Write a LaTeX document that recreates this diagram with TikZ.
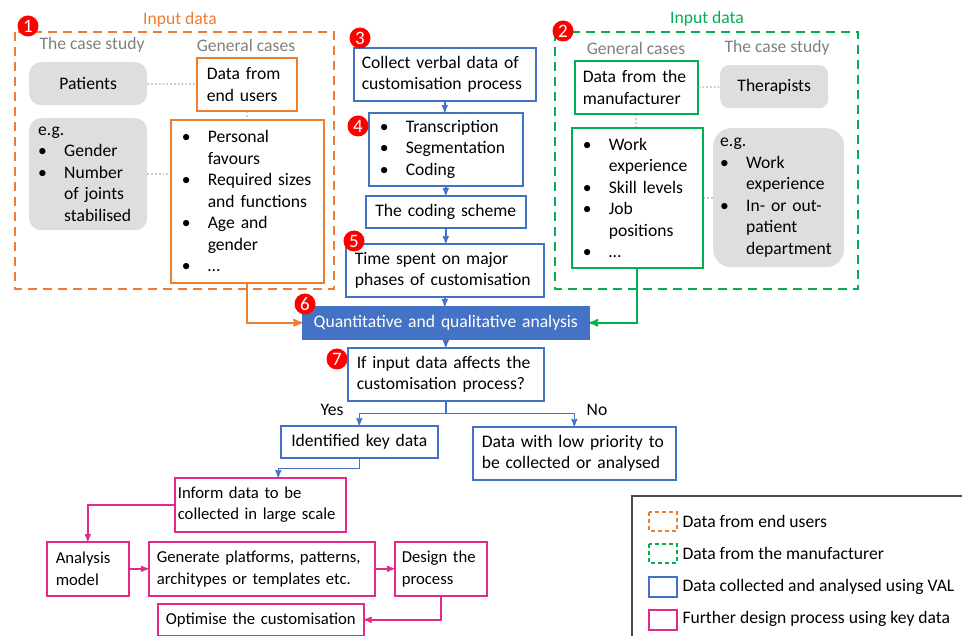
\documentclass[tikz,border=0pt]{standalone}
\usepackage{fontspec}
\setmainfont{Carlito}
\usetikzlibrary{positioning,arrows}
\definecolor{dataorange}{RGB}{237,125,49}
\definecolor{datagreen}{RGB}{0,176,80}
\definecolor{valblue}{RGB}{68,114,196}
\definecolor{keypink}{RGB}{230,40,140}
\definecolor{casegray}{RGB}{222,222,222}
\definecolor{labelgray}{RGB}{127,127,127}
\newcommand{\bulpt}{\makebox[26pt][l]{\textbullet}}
\newcommand{\bulsk}{\hspace*{26pt}}

\begin{document}
\begin{tikzpicture}[x=1pt,y=-1pt,>=stealth',
    font=\fontsize{17.6}{21.5}\selectfont,
    plainbox/.style={draw, line width=1.6pt, anchor=north west, align=left,
    inner ysep=0pt, fill=white},
    obox/.style={plainbox, draw=dataorange},
    gbox/.style={plainbox, draw=datagreen},
    vbox/.style={plainbox, draw=valblue},
    kbox/.style={plainbox, draw=keypink, font=\fontsize{16.7}{21.5}\selectfont},
    casebox/.style={anchor=north west, fill=casegray, rounded corners=12pt,
    align=left, inner ysep=0pt},
    headlbl/.style={text=labelgray},
    numdot/.style={circle, fill=red, text=white, inner sep=0pt, minimum size=21pt,
    font=\fontsize{19}{19}\selectfont},
    grpbox/.style={dash pattern=on 9pt off 6pt, line width=2.5pt},
    dotline/.style={draw=gray!40, dotted, line width=1.8pt},
    flow/.style={->, line width=1.5pt}
]
  \useasboundingbox (0,0) rectangle (962,636);

  % input data from the end users
  \draw[grpbox, dataorange] (15,32) rectangle (334,289);
  \node[text=dataorange] (inputa) at (180,20) {Input data};
  \node[headlbl] (casea) at (92,45) {The case study};
  \node[headlbl] (gena) at (246,45) {General cases};
  \node[casebox, align=center, text width=106pt, minimum height=43pt, inner xsep=6pt] (patients) at (29,62) {Patients};
  \node[obox, text width=80pt, minimum height=53pt, inner xsep=10pt] (users) at (196,57) {Data from\\end users};
  \node[casebox, text width=100pt, minimum height=112pt, inner xsep=9pt] (egusers) at (29,118)
    {e.g.\\\bulpt Gender\\\bulpt Number\\\bulsk of joints\\\bulsk stabilised};
  \node[obox, text width=131pt, minimum height=163pt, inner xsep=11pt] (usersdata) at (170,119)
    {\bulpt Personal\\\bulsk favours\\\bulpt Required sizes\\\bulsk and functions\\\bulpt Age and\\\bulsk gender\\\bulpt \ldots};

  % input data from the manufacturer
  \draw[grpbox, datagreen] (555,32) rectangle (858,289);
  \node[text=datagreen] (inputb) at (707,19) {Input data};
  \node[headlbl] (genb) at (636,48) {General cases};
  \node[headlbl] (caseb) at (777,48) {The case study};
  \node[gbox, text width=107pt, minimum height=53pt, inner xsep=8pt] (maker) at (574,60) {Data from the\\manufacturer};
  \node[casebox, align=center, text width=96pt, minimum height=43pt, inner xsep=6pt, rounded corners=9pt] (therapists) at (720,65) {Therapists};
  \node[gbox, text width=109pt, minimum height=140pt, inner xsep=11pt] (makerdata) at (571,127)
    {\bulpt Work\\\bulsk experience\\\bulpt Skill levels\\\bulpt Job\\\bulsk positions\\\bulpt \ldots};
  \node[casebox, text width=117pt, minimum height=139pt, inner xsep=7pt, rounded corners=18pt] (egther) at (713,128)
    {e.g.\\\bulpt Work\\\bulsk experience\\\bulpt In- or out-\\\bulsk patient\\\bulsk department};

  \draw[dotline] (patients) -- (users);
  \draw[dotline] (egusers.east) -- (egusers.east -| usersdata.west);
  \draw[dotline] (users.south) -- (users.south |- usersdata.north);
  \draw[dotline] (maker) -- (therapists);
  \draw[dotline] (makerdata.east) -- (makerdata.east -| egther.west);
  \draw[dotline] (maker.south) -- (maker.south |- makerdata.north);

  % verbal analysis
  \node[vbox, text width=166pt, minimum height=53pt, inner xsep=8pt] (collect) at (353,47) {Collect verbal data of\\customisation process};
  \node[vbox, text width=132pt, minimum height=73pt, inner xsep=11pt] (transcr) at (368,112)
    {\bulpt Transcription\\\bulpt Segmentation\\\bulpt Coding};
  \node[vbox, align=center, text width=148pt, minimum height=32pt, inner xsep=6pt] (scheme) at (365,195) {The coding scheme};
  \node[vbox, text width=180pt, minimum height=53pt, inner xsep=9pt] (timespent) at (345,243) {Time spent on major\\phases of customisation};
  \node[vbox, fill=valblue, text=white, align=center, text width=280pt, minimum height=32pt, inner xsep=3pt] (analysis) at (302,306)
    {Quantitative and qualitative analysis};
  \node[vbox, text width=178pt, minimum height=53pt, inner xsep=9pt] (affects) at (347,347) {If input data affects the\\customisation process?};
  \node[vbox, align=center, text width=147pt, minimum height=32pt, inner xsep=5pt] (keydata) at (280,425) {Identified key data};
  \node[vbox, text width=185pt, minimum height=53pt, inner xsep=9pt] (lowprio) at (472,426) {Data with low priority to\\be collected or analysed};

  \draw[flow, valblue] (collect.south) -- (collect.south |- transcr.north);
  \draw[flow, valblue] (transcr.south) -- (transcr.south |- scheme.north);
  \draw[flow, valblue] (scheme.south) -- (scheme.south |- timespent.north);
  \draw[flow, valblue] (timespent.south) -- (timespent.south |- analysis.north);
  \draw[flow, valblue] (analysis.south) -- (analysis.south |- affects.north);
  \draw[flow, valblue] (affects.south) -- ++(0,12) coordinate (split) -| (keydata.north);
  \draw[flow, valblue] (split) -| (lowprio.north);
  \node (yes) at (332,410) {Yes};
  \node (no) at (597,410) {No};

  \draw[flow, dataorange, line width=2pt] (usersdata.south) |- (analysis.west);
  \draw[flow, datagreen, line width=2pt] (makerdata.south) |- (analysis.east);

  % further design process
  \node[kbox, text width=165pt, minimum height=54pt, inner xsep=3pt] (inform) at (174,477) {Inform data to be\\collected in large scale};
  \node[kbox, text width=64pt, minimum height=54pt, inner xsep=9pt] (model) at (46,541) {Analysis\\model};
  \node[kbox, text width=210pt, minimum height=54pt, inner xsep=8pt] (generate) at (148,541) {Generate platforms, patterns,\\architypes or templates etc.};
  \node[kbox, text width=78pt, minimum height=54pt, inner xsep=7pt] (design) at (394,541) {Design the\\process};
  \node[kbox, align=center, text width=198pt, minimum height=32pt, inner xsep=4pt] (optimise) at (157,603) {Optimise the customisation};

  \draw[flow, valblue] (keydata.south) -- ++(0,10) -| ([xshift=18pt]inform.north);
  \draw[flow, keypink] (inform.west) -| (model.north);
  \draw[flow, keypink] (model) -- (generate);
  \draw[flow, keypink] (generate) -- (design);
  \draw[flow, keypink] (design.south) |- (optimise.east);

  % legend
  \draw[line width=1.2pt, draw=black!70] (962,496) -| (632,636);
  \draw[dataorange, line width=2pt, dash pattern=on 4pt off 3pt] (649,512) rectangle (677,531);
  \node[anchor=west] (keyusers) at (679,521) {Data from end users};
  \draw[datagreen, line width=2pt, dash pattern=on 4pt off 3pt] (649,544) rectangle (677,563);
  \node[anchor=west] (keymaker) at (679,553) {Data from the manufacturer};
  \draw[valblue, line width=1.6pt] (649,577) rectangle (677,597);
  \node[anchor=west] (keyval) at (679,587) {Data collected and analysed using VAL};
  \draw[keypink, line width=1.6pt] (649,610) rectangle (677,630);
  \node[anchor=west] (keydesign) at (679,619) {Further design process using key data};

  % step numbers
  \node[numdot] (n1) at (28,26) {1};
  \node[numdot] (n2) at (563,31) {2};
  \node[numdot] (n3) at (360,38) {3};
  \node[numdot] (n4) at (358,126) {4};
  \node[numdot] (n5) at (354,241) {5};
  \node[numdot] (n6) at (305,304) {6};
  \node[numdot] (n7) at (337,359) {7};
\end{tikzpicture}
\end{document}
